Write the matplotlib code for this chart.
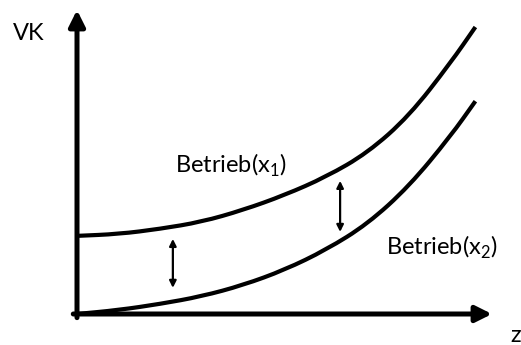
import numpy as np
import matplotlib.pyplot as plt
from matplotlib.path import Path
from matplotlib.patches import PathPatch

plt.rcParams['font.family'] = ['Lato', 'DejaVu Sans']
plt.rcParams['mathtext.fontset'] = 'custom'
plt.rcParams['mathtext.rm'] = 'Lato'

# Produktionsmenge z und variable Kosten VK
z = [0, 1, 2, 3, 4, 5, 6, 7, 8, 9, 9.6]
vk_x1 = [2.57, 2.63, 2.80, 3.03, 3.42, 3.91, 4.51, 5.30, 6.51, 8.26, 9.44]
vk_x2 = [0.0, 0.13, 0.33, 0.58, 0.95, 1.45, 2.11, 2.96, 4.20, 5.85, 7.0]

# Abstand zwischen den Kurven (Doppelpfeile)
pfeil_z = [2.31, 6.34]
pfeil_unten = [0.86, 2.70]
pfeil_oben = [2.47, 4.38]


# glatte Kurve durch die Punkte (quadratische Bezier-Stuecke)
def glatte_kurve(ax, xs, ys):
    pts = np.column_stack([xs, ys])
    verts = [pts[0]]
    codes = [Path.MOVETO]
    mids = (pts[:-1] + pts[1:]) / 2
    verts.append(mids[0])
    codes.append(Path.LINETO)
    for i in range(1, len(pts) - 1):
        verts += [pts[i], mids[i]]
        codes += [Path.CURVE3, Path.CURVE3]
    verts.append(pts[-1])
    codes.append(Path.LINETO)
    patch = PathPatch(Path(verts, codes), facecolor='none', edgecolor='black',
                      lw=3, capstyle='butt', clip_on=False)
    ax.add_patch(patch)


W, H = 521, 345
fig = plt.figure(figsize=(W / 100, H / 100), dpi=100)
ax = fig.add_axes([77 / W, (H - 314) / H, (492 - 77) / W, (314 - 10) / H])
ax.set_xlim(0, 10)
ax.set_ylim(0, 10)
ax.axis('off')

glatte_kurve(ax, z, vk_x1)
glatte_kurve(ax, z, vk_x2)

# Achsen mit Pfeilspitzen
pfeil = dict(arrowstyle='-|>', lw=3.6, color='black', mutation_scale=24, shrinkA=0, shrinkB=0)
ax.annotate('', xy=(0, 10), xytext=(0, -0.12), arrowprops=pfeil, annotation_clip=False)
ax.annotate('', xy=(10, 0), xytext=(-0.09, 0), arrowprops=pfeil, annotation_clip=False)

for zz, lo, hi in zip(pfeil_z, pfeil_unten, pfeil_oben):
    ax.annotate('', xy=(zz, hi), xytext=(zz, lo),
                arrowprops=dict(arrowstyle='<|-|>', lw=1.6, color='black',
                                mutation_scale=10, shrinkA=0, shrinkB=0))

ax.text((175 - 77) / 41.5, (314 - 173) / 30.4, r'Betrieb(x$_\mathregular{1}$)',
        fontsize=17, ha='left', va='baseline')
ax.text((386 - 77) / 41.5, (314 - 255) / 30.4, r'Betrieb(x$_\mathregular{2}$)',
        fontsize=17, ha='left', va='baseline')

fig.text(13 / W, 1 - 40 / H, 'VK', fontsize=17, ha='left', va='baseline')
fig.text(510 / W, 1 - 342 / H, 'z', fontsize=17, ha='left', va='baseline')

fig.savefig('out.png', dpi=100)
